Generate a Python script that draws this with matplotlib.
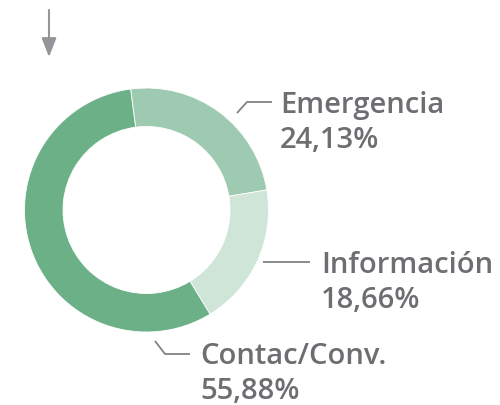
import matplotlib
matplotlib.use("Agg")
import matplotlib.pyplot as plt

labels = ["Emergencia", "Información", "Contac/Conv."]
values = [24.13, 18.66, 55.88]
colors = ["#9fcab2", "#cfe5d8", "#6cb087"]

W, H = 500, 406
fig = plt.figure(figsize=(W / 100, H / 100), dpi=100)
ax = fig.add_axes([0, 0, 1, 1])

def Y(y):
    return H - y

cx, cy, R, r_in = 146.5, 211, 122, 83.5
ax.pie(values, colors=colors, startangle=97.5, counterclock=False,
       center=(cx, Y(cy)), radius=R, frame=True,
       wedgeprops=dict(width=R - r_in, edgecolor="white", linewidth=0.6))
ax.set_xlim(0, W)
ax.set_ylim(0, H)
ax.set_aspect("equal")
ax.axis("off")

txt_color = "#6d6e71"
line_color = "#808285"
font = "Open Sans"
fs = 21
fw = "semibold"

label_pos = [
    ([(237, 114), (247, 103), (272, 103)], 280, 113),
    ([(263, 263), (310, 263)], 321, 273),
    ([(155, 342), (165, 355), (190, 355)], 200, 364),
]
for (pts, tx, tb), lab, val in zip(label_pos, labels, values):
    xs = [p[0] for p in pts]
    ys = [Y(p[1]) for p in pts]
    ax.plot(xs, ys, color=line_color, lw=1.3, solid_capstyle="butt")
    ax.text(tx, Y(tb), lab, fontsize=fs, family=font, weight=fw,
            color=txt_color, ha="left", va="baseline")
    ax.text(tx, Y(tb + 35), f"{val:.2f}%".replace(".", ","), fontsize=fs,
            family=font, weight=fw, color=txt_color, ha="left", va="baseline")

ax.annotate("", xy=(49, Y(58)), xytext=(49, Y(11)),
            arrowprops=dict(arrowstyle="-|>,head_length=1.15,head_width=0.45",
                            color="#939598", lw=1.5, shrinkA=0, shrinkB=0))

fig.savefig("out.png", dpi=100)
